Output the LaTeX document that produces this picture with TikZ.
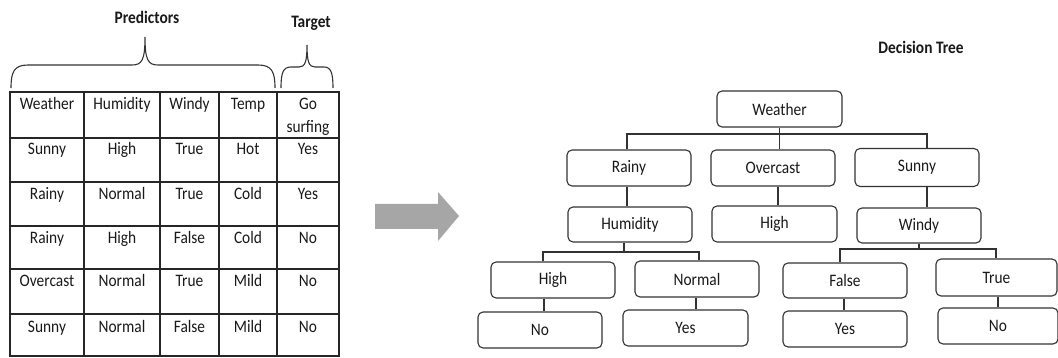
\documentclass[tikz,border=0pt]{standalone}
\usepackage{fontspec}
\setmainfont{Carlito}[FakeStretch=0.88]
\begin{document}
\begin{tikzpicture}[x=1pt,y=-1pt,
  line width=1.1pt,
  every node/.style={font=\fontsize{17.5}{23}\selectfont, text=black!90, inner sep=0pt},
  cell/.style={anchor=base, align=center},
  lbl/.style={anchor=base, font=\fontsize{17.5}{23}\selectfont\bfseries},
  tbox/.style={draw=black!80, rounded corners=5pt, minimum width=124pt, minimum height=36pt, line width=1.1pt},
  conn/.style={draw=black!80, line width=1.1pt},
  brace/.style={draw=black!80, line width=1.1pt}
]
\useasboundingbox (0,0) rectangle (1058,358);
\fill[white] (0,0) rectangle (1058,358);
\clip (0,0) rectangle (1058,358);

% ---- labels and braces
\node[lbl] (predl) at (147,24) {Predictors};
\node[lbl] (targl) at (311,28) {Target};
\node[lbl] (dtl) at (921,54) {Decision Tree};

\draw[brace] (11,88) .. controls (11,72) and (14,65) .. (28,65) -- (132,65)
  .. controls (142,65) and (145,60) .. (145,37)
  .. controls (145,60) and (148,65) .. (158,65) -- (258,65)
  .. controls (272,65) and (275,72) .. (275,88);
\draw[brace] (281,88) .. controls (281,73) and (283,67) .. (291,67) -- (299,67)
  .. controls (305,67) and (307,62) .. (307,45)
  .. controls (307,62) and (309,67) .. (315,67) -- (324,67)
  .. controls (331,67) and (333,73) .. (333,88);

% ---- table
\draw[draw=black!85] (10,92) rectangle (339,356);
\foreach \x in {84,160,219,277} \draw[draw=black!85] (\x,92) -- (\x,356);
\foreach \y in {138,182,226,269,314} \draw[draw=black!85] (10,\y) -- (339,\y);

\node[cell] (h1) at (47,110) {Weather};
\node[cell] (h2) at (122,110) {Humidity};
\node[cell] (h3) at (189.5,110) {Windy};
\node[cell] (h4) at (248,110) {Temp};
\node[cell] (h5a) at (308,110) {Go};
\node[cell] (h5b) at (308,133) {surfing};

\node[cell] (r1a) at (47,155) {Sunny};
\node[cell] (r1b) at (122,155) {High};
\node[cell] (r1c) at (189.5,155) {True};
\node[cell] (r1d) at (248,155) {Hot};
\node[cell] (r1e) at (308,155) {Yes};

\node[cell] (r2a) at (47,199.5) {Rainy};
\node[cell] (r2b) at (122,199.5) {Normal};
\node[cell] (r2c) at (189.5,199.5) {True};
\node[cell] (r2d) at (248,199.5) {Cold};
\node[cell] (r2e) at (308,199.5) {Yes};

\node[cell] (r3a) at (47,243.5) {Rainy};
\node[cell] (r3b) at (122,243.5) {High};
\node[cell] (r3c) at (189.5,243.5) {False};
\node[cell] (r3d) at (248,243.5) {Cold};
\node[cell] (r3e) at (308,243.5) {No};

\node[cell] (r4a) at (47,287) {Overcast};
\node[cell] (r4b) at (122,287) {Normal};
\node[cell] (r4c) at (189.5,287) {True};
\node[cell] (r4d) at (248,287) {Mild};
\node[cell] (r4e) at (308,287) {No};

\node[cell] (r5a) at (47,332) {Sunny};
\node[cell] (r5b) at (122,332) {Normal};
\node[cell] (r5c) at (189.5,332) {False};
\node[cell] (r5d) at (248,332) {Mild};
\node[cell] (r5e) at (308,332) {No};

% ---- arrow
\fill[black!35] (375,204) -- (438,204) -- (438,192) -- (459,216) -- (438,241) -- (438,229) -- (375,229) -- cycle;

% ---- tree nodes
\node[tbox, minimum width=125pt] (weather) at (779.5,109) {Weather};
\node[tbox] (rainy) at (629,168) {Rainy};
\node[tbox] (overcast) at (773,168) {Overcast};
\node[tbox, minimum height=38pt] (sunny) at (917,167.5) {Sunny};
\node[tbox, minimum height=35pt] (humidity) at (630,224.5) {Humidity};
\node[tbox, minimum width=125pt] (highO) at (774.5,224) {High};
\node[tbox, minimum height=35pt] (windy) at (919,225.5) {Windy};
\node[tbox] (highH) at (553,280) {High};
\node[tbox] (normal) at (697,279) {Normal};
\node[tbox, minimum height=35pt] (false) at (845,280.5) {False};
\node[tbox, minimum width=121pt, minimum height=37pt] (true) at (996.5,277.5) {True};
\node[tbox] (noH) at (540,330) {No};
\node[tbox, minimum width=125pt] (yesN) at (685.5,328) {Yes};
\node[tbox] (yesF) at (845,329) {Yes};
\node[tbox, minimum width=120pt] (noT) at (998,326) {No};

% ---- connectors
\coordinate (wb) at (779.5,134);
\coordinate (wbL) at (627,134);
\coordinate (wbR) at (927,134);
\draw[conn] (weather.south) -- (wb);
\draw[conn] (wbL |- rainy.north) -- (wbL) -- (wbR) -- (wbR |- sunny.north);
\draw[conn] (wb) -- (wb |- overcast.north);

\coordinate (rs) at (627,0);
\draw[conn] (rs |- rainy.south) -- (rs |- humidity.north);
\coordinate (os) at (778,0);
\draw[conn] (os |- overcast.south) -- (os |- highO.north);
\coordinate (ss) at (927,0);
\draw[conn] (ss |- sunny.south) -- (ss |- windy.north);

\coordinate (hb) at (624,252);
\coordinate (hbL) at (543,252);
\coordinate (hbR) at (699,252);
\draw[conn] (hb |- humidity.south) -- (hb);
\draw[conn] (hbL |- highH.north) -- (hbL) -- (hbR) -- (hbR |- normal.north);

\coordinate (vb) at (919,249);
\coordinate (vbL) at (840,249);
\coordinate (vbR) at (996,249);
\draw[conn] (windy.south) -- (vb);
\draw[conn] (vbL |- false.north) -- (vbL) -- (vbR) -- (vbR |- true.north);

\coordinate (c1) at (544,0);
\draw[conn] (c1 |- highH.south) -- (c1 |- noH.north);
\coordinate (c2) at (696,0);
\draw[conn] (c2 |- normal.south) -- (c2 |- yesN.north);
\coordinate (c3) at (844,0);
\draw[conn] (c3 |- false.south) -- (c3 |- yesF.north);
\coordinate (c4) at (998,0);
\draw[conn] (c4 |- true.south) -- (c4 |- noT.north);
\end{tikzpicture}
\end{document}
